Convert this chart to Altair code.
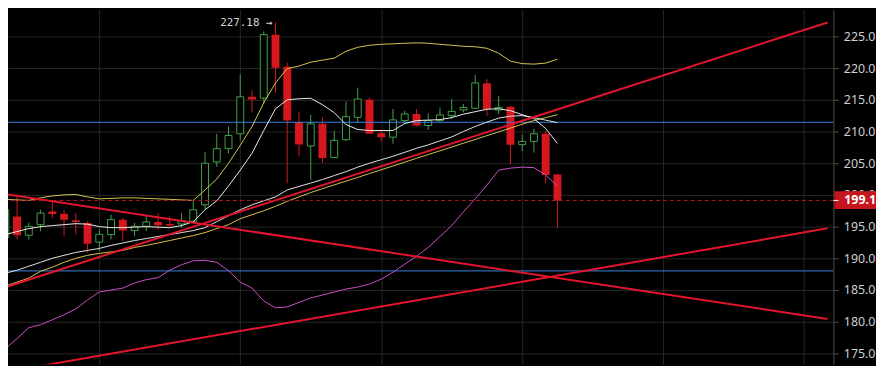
import altair as alt
import pandas as pd

# ---- candle data (index, OHLC) ----
idx = list(range(48))
opens = [193.25, 196.58, 193.61, 195.28, 197.36, 197.00, 195.96, 195.55, 192.52, 193.72,
         196.07, 194.35, 195.02, 195.71, 195.39, 195.39, 195.80, 198.41, 205.18, 207.28,
         209.63, 215.46, 215.26, 225.27, 220.20, 211.44, 207.69, 211.19, 205.87, 208.69,
         212.22, 214.99, 209.72, 209.09, 211.71, 212.75, 210.92, 211.71, 212.49, 213.38,
         213.66, 217.60, 213.38, 213.90, 207.91, 208.42, 209.63, 203.21]
closes = [197.63, 193.61, 195.02, 197.11, 196.96, 196.07, 195.71, 192.27, 193.77, 196.07,
          194.35, 195.02, 195.71, 195.17, 195.13, 195.91, 197.63, 204.98, 207.28, 209.36,
          215.46, 215.04, 225.27, 220.04, 211.71, 207.95, 211.19, 205.81, 208.58, 212.33,
          215.10, 209.63, 209.09, 211.82, 212.75, 210.92, 211.71, 212.60, 213.16, 213.79,
          217.65, 213.54, 213.79, 207.91, 208.42, 209.63, 203.10, 199.10]
highs = [198.41, 199.71, 195.60, 197.63, 198.83, 197.63, 197.11, 195.80, 194.50, 196.85,
         196.33, 195.55, 196.58, 197.11, 196.58, 197.11, 199.19, 206.75, 209.63, 210.77,
         219.01, 216.51, 225.78, 227.18, 220.82, 213.16, 212.64, 212.22, 210.14, 214.72,
         216.91, 215.35, 210.14, 213.54, 213.27, 213.54, 212.85, 213.79, 215.10, 214.32,
         218.90, 218.23, 215.62, 214.00, 209.47, 210.41, 210.14, 203.30]
lows = [192.63, 192.94, 192.94, 194.24, 196.33, 193.45, 193.72, 190.86, 191.11, 192.94,
        192.67, 193.45, 194.24, 194.50, 194.77, 194.77, 195.55, 197.63, 204.40, 206.50,
        208.58, 213.00, 214.32, 216.13, 201.81, 206.08, 202.32, 205.03, 205.87, 208.50,
        211.28, 209.52, 208.42, 208.06, 211.19, 210.77, 210.25, 211.44, 211.97, 213.00,
        213.54, 212.49, 212.75, 204.78, 206.86, 206.65, 201.81, 194.77]

# ---- indicator lines (one value per candle) ----
ma_fast = [193.72, 194.19, 194.66, 194.97, 195.13, 195.28, 195.44, 195.36, 194.97, 194.81,
           194.81, 194.89, 194.97, 194.89, 194.81, 195.13, 195.75, 197.63, 199.04, 201.38,
           203.89, 206.54, 210.14, 213.58, 214.99, 215.15, 215.23, 214.21, 212.96, 211.08,
           210.30, 210.14, 210.14, 210.14, 211.24, 211.71, 211.78, 211.86, 212.18, 212.72,
           213.11, 213.50, 213.58, 213.27, 212.64, 212.02, 210.45, 208.11]
ma_slow = [187.62, 188.09, 188.72, 189.34, 189.97, 190.44, 190.90, 191.22, 191.53, 192.00,
           192.39, 192.78, 193.09, 193.41, 193.72, 194.03, 194.35, 194.81, 195.75, 196.69,
           197.63, 198.41, 199.04, 199.66, 200.76, 201.31, 201.85, 202.40, 203.03, 203.65,
           204.36, 204.98, 205.53, 206.08, 206.70, 207.33, 207.87, 208.50, 209.13, 209.99,
           210.77, 211.47, 212.10, 212.41, 212.49, 212.18, 211.78, 211.39]
ma_long = [185.59, 186.21, 186.84, 187.93, 188.56, 189.34, 189.97, 190.44, 190.75, 190.98,
           191.22, 191.69, 192.00, 192.39, 192.78, 193.17, 193.56, 194.03, 194.66, 195.28,
           196.22, 196.85, 197.47, 198.18, 198.96, 199.66, 200.35, 200.96, 201.56, 202.15,
           202.74, 203.35, 203.95, 204.54, 205.14, 205.75, 206.34, 206.94, 207.53, 208.14,
           208.73, 209.33, 209.92, 210.53, 211.13, 211.72, 212.18, 212.64]
bb_upper = [199.27, 199.19, 199.11, 199.51, 199.82, 199.98, 200.05, 199.66, 199.35, 199.43,
            199.51, 199.51, 199.43, 199.35, 199.27, 199.19, 199.11, 200.76, 202.48, 204.98,
            207.80, 210.77, 214.52, 217.65, 219.92, 220.31, 220.93, 221.25, 221.56, 222.65,
            223.28, 223.59, 223.75, 223.83, 223.91, 223.98, 223.91, 223.75, 223.59, 223.44,
            223.36, 223.12, 222.34, 221.09, 220.70, 220.62, 220.78, 221.40]
bb_lower = [175.73, 177.30, 179.02, 179.49, 180.27, 181.05, 181.99, 183.40, 184.65, 184.96,
            185.27, 186.06, 186.60, 186.92, 188.09, 188.95, 189.58, 189.65, 189.34, 188.01,
            186.21, 185.27, 183.24, 182.15, 182.30, 183.01, 183.71, 184.18, 184.65, 185.12,
            185.43, 185.90, 186.68, 187.78, 189.03, 190.28, 191.69, 193.41, 195.13, 197.32,
            199.35, 201.54, 203.89, 204.20, 204.36, 204.28, 203.10, 201.38]

# ---- drawings ----
trend_idx = [0, 70]
trend_up = [185.4, 227.2]
trend_down = [200.1, 180.4]
trend_low = [172.0, 194.7]
levels = [211.44, 187.98]
last_price = 199.10
peak_price = 227.18
peak_index = 23
grid_idx = [8, 20, 32, 44, 56, 68]
ytick_vals = [175, 180, 185, 190, 195, 200, 205, 210, 215, 220, 225]

GREEN = "#41a14a"
RED = "#d5171e"

xsc = alt.Scale(domain=[0.65, 70.07], nice=False, zero=False)
ysc = alt.Scale(domain=[173.23, 229.22], nice=False, zero=False)
xaxis = alt.Axis(values=grid_idx, labels=False, ticks=False, domain=False, grid=True,
                 gridColor="#262626", gridWidth=1, title=None)
yaxis = alt.Axis(orient="right", values=ytick_vals, format=".2f", grid=True,
                 gridColor="#262626", gridWidth=1, domainColor="#505050", tickColor="#505050",
                 tickSize=5, labelPadding=5, labelColor="#cfcfcf", labelFontSize=12.5,
                 labelFont="Noto Sans", title=None, labelFlush=False)


def X(f):
    return alt.X(f, type="quantitative", scale=xsc, axis=xaxis)


def Y(f):
    return alt.Y(f, type="quantitative", scale=ysc, axis=yaxis)


candles = pd.DataFrame({"i": idx, "o": opens, "c": closes, "h": highs, "l": lows})
candles["dir"] = ["up" if c >= o else "down" for o, c in zip(opens, closes)]
up = candles[candles["dir"] == "up"]
down = candles[candles["dir"] == "down"]

up_wicks = alt.Chart(up).mark_rule(strokeWidth=1, color=GREEN, clip=True).encode(
    x=X("i"), y=Y("l"), y2="h")
down_wicks = alt.Chart(down).mark_rule(strokeWidth=1, color=RED, clip=True).encode(
    x=X("i"), y=Y("l"), y2="h")
up_bodies = alt.Chart(up).mark_bar(size=7, fill="#000000", stroke=GREEN, strokeWidth=1, clip=True).encode(
    x=X("i"), y=Y("o"), y2="c")
down_bodies = alt.Chart(down).mark_bar(size=8, color=RED, clip=True).encode(
    x=X("i"), y=Y("o"), y2="c")

line_specs = [
    (bb_lower, "#c94fc4"),
    (ma_long, "#d8c24a"),
    (bb_upper, "#d4c450"),
    (ma_slow, "#e2e2e2"),
    (ma_fast, "#ececec"),
]
line_layers = []
for vals, col in line_specs:
    df = pd.DataFrame({"i": idx, "v": vals})
    line_layers.append(
        alt.Chart(df).mark_line(strokeWidth=1, color=col, clip=True).encode(x=X("i"), y=Y("v"))
    )

trend_layers = []
for vals in (trend_up, trend_down, trend_low):
    df = pd.DataFrame({"i": trend_idx, "v": vals})
    trend_layers.append(
        alt.Chart(df).mark_line(strokeWidth=2, color="#e3152e", clip=True).encode(x=X("i"), y=Y("v"))
    )

blue = alt.Chart(pd.DataFrame({"v": levels})).mark_rule(color="#3b82e0", strokeWidth=1).encode(y=Y("v"))

dashed = alt.Chart(pd.DataFrame({"v": [last_price]})).mark_rule(
    color="#b5161f", strokeWidth=1, strokeDash=[4, 3]).encode(y=Y("v"))

peak_df = pd.DataFrame({"i": [peak_index], "v": [peak_price], "t": [f"{peak_price:.2f} \u2192"]})
peak = alt.Chart(peak_df).mark_text(align="right", baseline="middle", dx=-3, font="DejaVu Sans Mono",
                                    fontSize=11, color="#d4d4d4").encode(x=X("i"), y=Y("v"), text="t:N")

box_df = pd.DataFrame({"v": [last_price], "top": [last_price + 1.45], "bot": [last_price - 1.35],
                       "t": [f"{last_price:.2f}"]})
box = alt.Chart(box_df).mark_rect(color="#c4161c", clip=False).encode(
    x=alt.value(834), x2=alt.value(880), y=Y("top"), y2="bot")
box_text = alt.Chart(box_df).mark_text(align="left", baseline="middle", color="white", fontWeight="bold",
                                       fontSize=12.5, font="Noto Sans", clip=False).encode(
    x=alt.value(844), y=Y("v"), text="t:N")
tick = alt.Chart(box_df).mark_rule(color="white", strokeWidth=1, clip=False).encode(
    x=alt.value(833), x2=alt.value(838), y=Y("v"))

chart = alt.layer(
    up_wicks, down_wicks, up_bodies, down_bodies, blue, *line_layers, *trend_layers,
    dashed, peak, box, box_text, tick
).properties(
    width=833, height=358, background="#000000",
    padding={"left": 0, "top": 0, "right": 43, "bottom": 0},
    autosize=alt.AutoSizeParams(type="none"),
).configure_view(stroke=None)

chart.save("out.html", embed_options={"renderer": "svg", "actions": False})
